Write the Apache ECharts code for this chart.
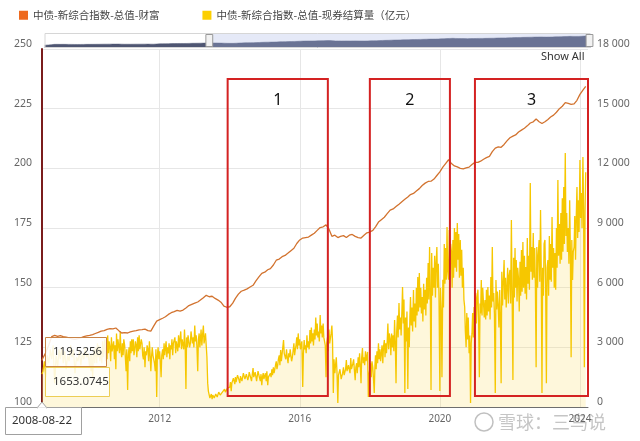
<!DOCTYPE html>
<html>
<head>
<meta charset="utf-8">
<script src="https://cdn.jsdelivr.net/npm/echarts@6/dist/echarts.min.js"></script>
<style>html,body{margin:0;padding:0;background:#fff}#main{width:640px;height:441px}</style>
</head>
<body>
<div id="main"></div>
<script>
// ---------- DATA ----------
const wealthName = '中债-新综合指数-总值-财富';
const volumeName = '中债-新综合指数-总值-现券结算量（亿元）';
const startDate = '2008-08-22';
const endAxisDate = '2024-03-25';
const startWealth = 119.5256;
const startVolume = 1653.0745;
const yearTicks = [2012, 2016, 2020, 2024];

// wealth index, monthly (1st of month)
const wealth2008 = [120.6, 122.8, 126.0, 129.5]; // Sep-Dec
const wealth2009 = [130.0, 129.6, 129.9, 129.5, 129.3, 129.0, 128.5, 128.3, 128.6, 129.0, 129.5, 129.8];
const wealth2010 = [130.0, 130.3, 130.8, 131.3, 131.8, 132.0, 132.5, 132.8, 132.7, 133.1, 132.0, 131.0];
const wealth2011 = [131.2, 131.0, 131.5, 131.8, 132.0, 132.3, 132.4, 132.6, 132.0, 131.8, 134.0, 136.0];
const wealth2012 = [136.6, 137.2, 137.8, 138.8, 139.5, 140.0, 140.5, 140.2, 140.6, 141.5, 142.5, 143.0];
const wealth2013 = [143.5, 144.0, 144.8, 145.8, 146.8, 146.2, 146.4, 145.5, 144.8, 143.9, 142.3, 141.8];
const wealth2014 = [142.0, 143.5, 145.5, 147.3, 148.5, 149.0, 149.5, 150.3, 151.0, 152.8, 154.5, 156.0];
const wealth2015 = [156.5, 157.5, 158.0, 159.5, 161.5, 162.0, 163.0, 163.5, 164.5, 165.5, 166.5, 168.5];
const wealth2016 = [170.0, 170.8, 171.0, 171.2, 172.0, 172.8, 174.0, 175.2, 175.5, 176.3, 174.5, 171.5];
const wealth2017 = [172.0, 171.0, 171.5, 171.8, 171.0, 172.0, 172.3, 171.5, 171.0, 170.8, 172.0, 173.0];
const wealth2018 = [173.3, 174.0, 175.5, 177.5, 178.5, 179.5, 181.0, 182.5, 183.0, 184.0, 185.0, 186.0];
const wealth2019 = [187.0, 188.0, 189.0, 189.5, 190.5, 191.5, 192.8, 193.8, 194.5, 194.6, 195.5, 197.0];
const wealth2020 = [198.5, 200.5, 202.0, 203.6, 202.0, 201.0, 200.6, 200.0, 199.8, 200.2, 200.5, 201.6];
const wealth2021 = [202.5, 202.5, 203.0, 203.8, 204.5, 205.0, 207.0, 208.5, 209.0, 208.8, 210.0, 211.5];
const wealth2022 = [212.8, 213.5, 214.0, 215.2, 216.0, 216.8, 217.8, 219.0, 219.5, 220.7, 219.5, 218.8];
const wealth2023 = [219.5, 220.5, 221.5, 222.3, 223.5, 225.0, 226.0, 227.5, 227.2, 226.8, 227.0, 228.5];
const wealth2024 = [231.0, 232.8, 234.3]; // Jan-Mar

// settlement volume (亿元): 2008-2009 half-monthly (1st,16th); 2010-2024 weekly-ish (1st,8th,16th,23rd)
const vol2008 = [1800, 2300, 1500, 2600, 2200, 2900, 2400, 3100]; // Sep-Dec
const vol2009 = [1200, 2600, 2000, 2900, 2400, 3000, 2200, 2800, 1900, 2600, 2300, 3100, 2500, 2900, 1700, 2500, 2300, 2800, 2100, 2700, 2400, 3000, 2500, 2700];
const vol2010 = [2000, 2600, 1800, 2700, 1500, 2400, 2900, 2200, 2600, 3000, 2200, 3200, 2500, 3100, 2300, 2900,
  2800, 2200, 3300, 2500, 2600, 3400, 2300, 3000, 2400, 3600, 2700, 3300, 3000, 2300, 3500, 2800,
  2700, 3300, 2400, 3100, 1900, 3700, 2800, 3400, 3300, 2700, 3800, 2900, 2500, 3200, 2600, 3400];
const vol2011 = [3100, 2500, 1800, 2900, 850, 2600, 3000, 2300, 3300, 2700, 3400, 2800, 3400, 2600, 2900, 3300,
  3100, 2500, 3500, 2800, 3600, 2900, 2800, 3400, 3200, 2600, 2400, 3000, 2000, 2800, 2600, 3100,
  2900, 2300, 3300, 2700, 1800, 2500, 3000, 2600, 2700, 2200, 1800, 2900, 500, 2600, 3000, 2400];
const vol2012 = [2800, 2300, 1500, 2600, 2900, 2400, 3200, 2600, 2600, 3300, 2500, 3000, 2700, 3200, 2400, 3100,
  2900, 3400, 2600, 3200, 3100, 3500, 2700, 3300, 3300, 2800, 3600, 3000, 3000, 3800, 2900, 3400,
  3400, 2900, 3900, 3100, 900, 3500, 3000, 3600, 3700, 3000, 3200, 3800, 3900, 3200, 3500, 3000];
const vol2013 = [4100, 3300, 3600, 3100, 1800, 3400, 3700, 3000, 3400, 3900, 3100, 3600, 4100, 3200, 3300, 3700,
  3800, 2500, 1200, 800, 600, 450, 500, 650, 400, 600, 550, 450, 450, 650, 600, 500,
  500, 750, 700, 600, 650, 550, 750, 800, 700, 900, 750, 850, 800, 950, 850, 1000];
const vol2014 = [1000, 1250, 800, 1200, 1200, 1450, 1400, 1150, 1500, 1250, 1300, 1600, 1700, 1350, 1200, 1550,
  1600, 1300, 1400, 1700, 1800, 1400, 1300, 1650, 1700, 1350, 1500, 1750, 1800, 1450, 1300, 1600,
  1960, 1500, 1400, 1750, 1700, 1300, 1600, 1800, 1850, 1450, 1300, 1650, 1100, 1500, 1700, 1400];
const vol2015 = [1500, 1700, 1300, 1800, 1100, 1500, 1600, 1400, 1700, 1500, 1900, 1600, 2000, 1700, 1900, 2100,
  2300, 1900, 2100, 2400, 2600, 2100, 2860, 2300, 2400, 3000, 3370, 2700, 2800, 2400, 2900, 2500,
  2200, 2700, 2500, 2900, 2860, 2300, 2500, 2800, 3200, 2600, 2900, 3100, 3500, 2900, 3700, 3100];
const vol2016 = [3400, 2900, 2900, 3300, 1000, 2700, 3370, 2900, 3100, 2700, 3600, 3000, 3300, 2900, 3870, 3200,
  4000, 3300, 3700, 3100, 3900, 3400, 4500, 3600, 4200, 3500, 3800, 3300, 4630, 3700, 4100, 3500,
  4200, 3500, 3600, 3100, 1500, 3200, 3500, 2800, 3900, 3200, 3200, 3700, 4100, 3300, 700, 2400];
const vol2017 = [1700, 2100, 2500, 1800, 200, 1600, 1500, 1900, 1800, 1400, 1300, 1700, 2000, 1600, 1600, 1900,
  2360, 1800, 1900, 2100, 2200, 1700, 2460, 1900, 1800, 2200, 2400, 1900, 1350, 2000, 2200, 1700,
  2500, 2000, 2700, 2100, 1200, 2500, 2970, 2200, 2500, 2100, 2800, 2300, 2400, 2770, 500, 1600];
const vol2018 = [1700, 2200, 1500, 2300, 2000, 1400, 700, 2100, 2600, 1900, 2800, 2200, 3200, 2400, 2900, 2300,
  2700, 3100, 2200, 3000, 3370, 2500, 3200, 2700, 3300, 4200, 2900, 3700, 3400, 2600, 3700, 3000,
  3600, 2800, 4370, 3300, 1200, 3800, 4600, 3500, 5230, 3900, 4500, 3600, 4800, 6030, 4200, 5400];
const vol2019 = [700, 4500, 3300, 4800, 900, 4000, 3000, 4600, 5530, 4100, 5000, 3800, 5880, 4300, 5200, 4000,
  6000, 4600, 6540, 4800, 6740, 5000, 6000, 4700, 5530, 4300, 6200, 4900, 5900, 4600, 6500, 5200,
  7240, 5400, 8040, 5800, 850, 7740, 5600, 7000, 6000, 7600, 5500, 7200, 8040, 6000, 7200, 5600];
const vol2020 = [800, 6000, 4800, 1500, 6400, 5000, 8200, 6200, 8000, 6400, 9050, 6800, 6400, 8900, 6900, 8200,
  7800, 6000, 8400, 6500, 9000, 7000, 8800, 6800, 9250, 7400, 8700, 6500, 8400, 6600, 7900, 6000,
  7000, 5400, 5030, 3800, 3000, 4730, 3400, 4500, 2700, 3600, 200, 3200, 3700, 4730, 3500, 5030];
const vol2021 = [4730, 5730, 4200, 5500, 5900, 4300, 1500, 5200, 4700, 6390, 4600, 6000, 6030, 4500, 5380, 4400,
  5900, 4600, 6030, 4800, 5600, 4400, 6540, 5000, 8040, 5300, 5730, 4700, 700, 6380, 4900, 5800,
  5000, 4000, 5880, 4500, 1200, 6800, 5100, 6200, 7390, 5400, 6500, 5000, 6030, 7000, 5200, 6600];
const vol2022 = [6890, 5200, 9400, 6000, 1360, 7500, 5500, 8000, 6000, 7390, 5300, 7000, 6400, 4800, 7300, 5600,
  7890, 5800, 8300, 6000, 7600, 5700, 7040, 5400, 8500, 6200, 7600, 5900, 11260, 6800, 8040, 6400,
  8750, 6500, 8000, 6200, 2000, 8040, 6000, 7600, 8400, 6300, 9900, 7000, 700, 7000, 5600, 8200];
const vol2023 = [8400, 6200, 1200, 7000, 7390, 5600, 8600, 6400, 8200, 6300, 9550, 7000, 8000, 6000, 7740, 5900,
  9000, 7000, 11410, 7600, 9200, 7200, 9750, 7400, 10500, 7800, 11060, 8200, 12770, 8600, 9750, 7800,
  9000, 7200, 10400, 7900, 2500, 8400, 6390, 7800, 8040, 9600, 7400, 9500, 11060, 8500, 10400, 8800];
const vol2024 = [12420, 9500, 10760, 9000, 12570, 10000, 2000, 9800, 11800]; // Jan 1 - Mar 1

// highlighted periods (red boxes)
const boxLabels = ['1', '2', '3'];
const boxFrom = ['2013-12-10', '2018-01-01', '2021-01-01'];
const boxTo = ['2016-10-20', '2020-04-15', '2024-03-25'];
const boxTop = 237.4;
const boxBottom = 104.6;

// ---------- BUILD ----------
const wealthYears = [[2008, 9, wealth2008], [2009, 1, wealth2009], [2010, 1, wealth2010], [2011, 1, wealth2011],
  [2012, 1, wealth2012], [2013, 1, wealth2013], [2014, 1, wealth2014], [2015, 1, wealth2015], [2016, 1, wealth2016],
  [2017, 1, wealth2017], [2018, 1, wealth2018], [2019, 1, wealth2019], [2020, 1, wealth2020], [2021, 1, wealth2021],
  [2022, 1, wealth2022], [2023, 1, wealth2023], [2024, 1, wealth2024]];
const volYears = [[2008, 9, vol2008, 2], [2009, 1, vol2009, 2], [2010, 1, vol2010, 4], [2011, 1, vol2011, 4],
  [2012, 1, vol2012, 4], [2013, 1, vol2013, 4], [2014, 1, vol2014, 4], [2015, 1, vol2015, 4], [2016, 1, vol2016, 4],
  [2017, 1, vol2017, 4], [2018, 1, vol2018, 4], [2019, 1, vol2019, 4], [2020, 1, vol2020, 4], [2021, 1, vol2021, 4],
  [2022, 1, vol2022, 4], [2023, 1, vol2023, 4], [2024, 1, vol2024, 4]];
const DAYS = { 1: [1], 2: [1, 16], 4: [1, 8, 16, 23] };
const pad = n => (n < 10 ? '0' : '') + n;
function build(first, years, defPer) {
  const out = [first];
  years.forEach(([y, m0, arr, per]) => {
    const p = per || defPer;
    arr.forEach((v, i) => {
      const m = m0 + Math.floor(i / p);
      const d = DAYS[p][i % p];
      out.push([y + '-' + pad(m) + '-' + pad(d), v]);
    });
  });
  return out;
}
const wealthData = build([startDate, startWealth], wealthYears, 1);
const volumeData = build([startDate, startVolume], volYears, 2);

const FONT = '"Noto Sans", "Noto Sans CJK SC", sans-serif';
const chart = echarts.init(document.getElementById('main'));
const option = {
  animation: false,
  backgroundColor: '#ffffff',
  textStyle: { fontFamily: FONT },
  legend: {
    left: 14, top: 5, itemWidth: 9, itemHeight: 9, itemGap: 43, icon: 'rect',
    data: [wealthName, volumeName],
    textStyle: { fontSize: 10.5, color: '#444', fontFamily: '"Noto Sans CJK SC", sans-serif' }
  },
  grid: [
    { left: 42, right: 52, top: 49, bottom: 34 },
    { left: 42, right: 52, top: 33, height: 15 }
  ],
  xAxis: [
    { type: 'time', min: startDate, max: endAxisDate,
      axisLine: { show: true, lineStyle: { color: '#6e6e6e', width: 1 } },
      axisTick: { show: false }, axisLabel: { show: false }, splitLine: { show: false } },
    { type: 'time', gridIndex: 1, min: startDate, max: endAxisDate, show: false }
  ],
  yAxis: [
    { type: 'value', min: 100, max: 250, interval: 25, position: 'left',
      axisLine: { show: true, lineStyle: { color: '#7a1c1c', width: 2 } },
      axisTick: { show: false },
      axisLabel: { color: '#666', fontSize: 10.5, margin: 10, verticalAlign: 'bottom', lineHeight: 10 },
      splitLine: { lineStyle: { color: '#e6e6e6', width: 1 } } },
    { type: 'value', min: 0, max: 18000, interval: 3000, position: 'right',
      axisLine: { show: false }, axisTick: { show: false }, splitLine: { show: false },
      axisLabel: { color: '#666', fontSize: 10.5, margin: 9, verticalAlign: 'bottom', lineHeight: 10,
        formatter: v => v >= 1000 ? Math.floor(v / 1000) + ' ' + String(v % 1000).padStart(3, '0') : String(v) } },
    { type: 'value', gridIndex: 1, show: false }
  ],
  dataZoom: [{
    type: 'slider', xAxisIndex: 1, filterMode: 'none',
    left: 42, right: 52, top: 33, height: 15, start: 30, end: 100,
    showDetail: false, brushSelect: false, moveHandleSize: 0, showDataShadow: true,
    backgroundColor: '#ffffff', borderColor: '#d6d6d6',
    fillerColor: 'rgba(170,182,228,0.3)',
    dataBackground: { lineStyle: { color: '#4f5672', width: 0.5, opacity: 1 }, areaStyle: { color: '#4f5672', opacity: 1 } },
    selectedDataBackground: { lineStyle: { color: '#4f5672', width: 0.5, opacity: 1 }, areaStyle: { color: '#4f5672', opacity: 1 } },
    handleIcon: 'path://M0,0H8V14H0Z', handleSize: '80%',
    handleStyle: { color: '#f2f2f2', borderColor: '#999', borderWidth: 1 },
    emphasis: { handleStyle: { color: '#f2f2f2', borderColor: '#999' } }
  }],
  series: [
    { name: volumeName, type: 'line', xAxisIndex: 0, yAxisIndex: 1, data: volumeData,
      symbol: 'none', z: 2, clip: false,
      itemStyle: { color: '#fccf00' },
      lineStyle: { color: '#f6c700', width: 1.3 },
      areaStyle: { color: 'rgba(250,226,120,0.38)' },
      markLine: {
        silent: true, symbol: 'none', z: 1, animation: false,
        lineStyle: { color: '#e6e6e6', width: 1, type: 'solid' },
        label: { show: true, position: 'start', distance: 7, color: '#666', fontSize: 10 },
        data: yearTicks.map(y => ({ xAxis: y + '-01-01', label: { formatter: String(y) } }))
      } },
    { name: wealthName, type: 'line', xAxisIndex: 0, yAxisIndex: 0, data: wealthData,
      symbol: 'none', z: 3,
      itemStyle: { color: '#ee6a1f' },
      lineStyle: { color: '#d2732f', width: 1.3 },
      markArea: {
        silent: true, z: 10,
        itemStyle: { color: 'rgba(0,0,0,0)', borderColor: '#d42222', borderWidth: 2 },
        label: { show: true, position: 'insideTop', distance: 14, color: '#111', fontSize: 16, formatter: '{b}' },
        data: boxLabels.map((l, i) => [{ name: l, xAxis: boxFrom[i], yAxis: boxTop }, { xAxis: boxTo[i], yAxis: boxBottom }])
      } },
    { name: 'nav', type: 'line', xAxisIndex: 1, yAxisIndex: 2, data: wealthData,
      symbol: 'none', silent: true, lineStyle: { opacity: 0 } }
  ],
  graphic: [
    { type: 'text', left: 541, top: 51, z: 50, style: { text: 'Show All', fill: '#333', font: '11px "Noto Sans"' } },
    // tooltips
    { type: 'rect', z: 100, shape: { x: 45.5, y: 337.5, width: 61, height: 29 }, style: { fill: 'rgba(255,255,255,0.88)', stroke: '#c98345', lineWidth: 1 } },
    { type: 'text', z: 101, x: 53, y: 352, style: { text: startWealth.toFixed(4), fill: '#333', font: '11.5px "Noto Sans"', verticalAlign: 'middle' } },
    { type: 'rect', z: 100, shape: { x: 45.5, y: 367.5, width: 64, height: 29 }, style: { fill: 'rgba(255,255,250,0.85)', stroke: '#eccd55', lineWidth: 1 } },
    { type: 'text', z: 101, x: 53, y: 382, style: { text: startVolume.toFixed(4), fill: '#333', font: '11.5px "Noto Sans"', verticalAlign: 'middle' } },
    { type: 'rect', z: 100, shape: { x: 5.5, y: 407.5, width: 76, height: 27 }, style: { fill: '#ffffff', stroke: '#a0a0a0', lineWidth: 1 } },
    { type: 'polygon', z: 101, shape: { points: [[37, 408], [42, 402], [47, 408]] }, style: { fill: '#ffffff', stroke: '#a0a0a0', lineWidth: 1 } },
    { type: 'rect', z: 102, shape: { x: 37.5, y: 407.5, width: 9, height: 1.5 }, style: { fill: '#ffffff' } },
    { type: 'text', z: 103, x: 12, y: 421, style: { text: startDate, fill: '#333', font: '11.5px "Noto Sans"', verticalAlign: 'middle' } },
    // watermark
    { type: 'circle', z: 0, shape: { cx: 484, cy: 422, r: 9 }, style: { fill: 'none', stroke: 'rgba(150,150,150,0.6)', lineWidth: 1.5 } },
    { type: 'text', z: 0, x: 498, y: 422, style: { text: '雪球：三鸟说', fill: 'rgba(150,150,150,0.55)', font: '18px "Noto Sans CJK SC"', verticalAlign: 'middle' } }
  ]
};
chart.setOption(option);
</script>
</body>
</html>
